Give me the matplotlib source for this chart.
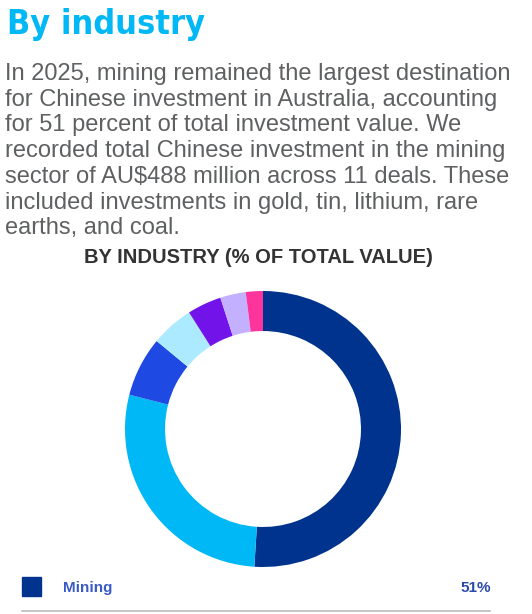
import matplotlib.pyplot as plt

# data
industries = ["Mining", "Commercial real estate", "Renewable energy", "Healthcare",
              "Agribusiness", "Manufacturing", "Other"]
shares = [51, 28, 7, 5, 4, 3, 2]
colors = ["#00338D", "#00B8F5", "#1E49E2", "#ACEAFF", "#7213EA", "#C3B0FF", "#FD349C"]

title = "By industry"
body = ("In 2025, mining remained the largest destination\n"
        "for Chinese investment in Australia, accounting\n"
        "for 51 percent of total investment value. We\n"
        "recorded total Chinese investment in the mining\n"
        "sector of AU$488 million across 11 deals. These\n"
        "included investments in gold, tin, lithium, rare\n"
        "earths, and coal.")
chart_title = "BY INDUSTRY (% OF TOTAL VALUE)"

W, H = 532, 614
fig = plt.figure(figsize=(W / 100, H / 100), dpi=100)


def fx(px):
    return px / W


def fy(py):
    return 1 - py / H


fig.text(fx(7), fy(34), title, fontsize=24.5, fontweight='bold', color='#00B8F5',
         family='DejaVu Sans', fontstretch='condensed', va='baseline', ha='left')

fig.text(fx(5), fy(63), body, fontsize=17, color='#5F6062', family='Liberation Sans',
         va='top', ha='left', linespacing=1.22)

fig.text(fx(258), fy(263), chart_title, fontsize=14.5, fontweight='bold', color='#333333',
         family='Liberation Sans', va='baseline', ha='center')

# donut
cx, cy, r = 263, 429, 138
ax = fig.add_axes([fx(cx - r), fy(cy + r), 2 * r / W, 2 * r / H])
ax.pie(shares, colors=colors, startangle=90, counterclock=False, radius=1,
       wedgeprops=dict(width=0.29, linewidth=0))
ax.set_xlim(-1, 1)
ax.set_ylim(-1, 1)
ax.set_aspect('equal')
ax.set_axis_off()

# legend row (only first row visible)
fig.patches.append(plt.Rectangle((fx(22), fy(596)), 19 / W, 19 / H, color=colors[0],
                                 transform=fig.transFigure, figure=fig))
fig.text(fx(63), fy(592), industries[0], fontsize=11, fontweight='bold', color='#3A5BC7',
         family='Liberation Sans', va='baseline', ha='left')
fig.text(fx(491), fy(592), f"{shares[0]}%", fontsize=11, fontweight='bold', color='#2B4BA8',
         family='Liberation Sans', va='baseline', ha='right')
fig.add_artist(plt.Line2D([fx(22), fx(490)], [fy(611), fy(611)], color='#BBBBBB', lw=1.2))

fig.savefig("out.png", dpi=100)
